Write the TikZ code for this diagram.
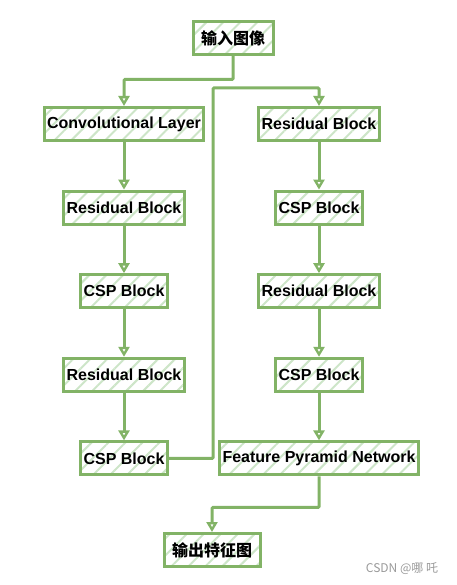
\documentclass[tikz,border=0pt]{standalone}
\usepackage{fontspec}
\setmainfont{Liberation Sans}
\newfontfamily\cjk{Noto Sans CJK SC}
\usetikzlibrary{arrows.meta,positioning,patterns.meta}
\definecolor{leaf}{HTML}{82B366}
\definecolor{leaflight}{HTML}{CDE5C8}
\tikzset{
    %Define standard arrow tip
    >={Triangle[open,length=10pt,width=11pt,line width=2.4pt]},
    %Define style for boxes
    block/.style={
           rectangle,
           draw=leaf,
           line width=3pt,
           pattern={Lines[angle=45,distance=12pt,line width=2pt]},
           pattern color=leaflight,
           inner xsep=3pt,
           minimum height=33pt,
           font=\fontsize{16}{19}\selectfont\bfseries},
    % Define block style for chinese text
    cblock/.style={
           block,
           inner xsep=8pt,
           font=\fontsize{16}{19}\selectfont\cjk\bfseries},
    % Define arrow style
    flow/.style={
           ->,
           draw=leaf,
           line width=3pt,
           rounded corners=1pt}
}

\begin{document}
\begin{tikzpicture}[x=1pt, y=1pt, node distance=47.6pt]
  \useasboundingbox (0,0) rectangle (456,-585);
  % input
  \node[cblock] (input) at (233,-38) {输入图像};
  % left column
  \node[block] (conv) at (124,-124) {Convolutional Layer};
  \node[block,below=of conv] (resA) {Residual Block};
  \node[block,below=of resA] (cspA) {CSP Block};
  \node[block,below=of cspA] (resB) {Residual Block};
  \node[block,below=of resB] (cspB) {CSP Block};
  % right column
  \node[block] (resC) at (319,-124) {Residual Block};
  \node[block,below=of resC] (cspC) {CSP Block};
  \node[block,below=of cspC] (resD) {Residual Block};
  \node[block,below=of resD] (cspD) {CSP Block};
  \node[block,below=of cspD] (fpn) {Feature Pyramid Network};
  % output
  \node[cblock] (output) at (212,-550) {输出特征图};
  \node[text=black!40,font=\fontsize{12}{14}\selectfont\cjk] (mark) at (402,-569) {CSDN @哪 吒};

  \coordinate (cross) at (213,-88);
  \draw[flow] (input.south) -- ++(0,-24) -| (conv.north);
  \draw[flow] (conv) -- (resA);
  \draw[flow] (resA) -- (cspA);
  \draw[flow] (cspA) -- (resB);
  \draw[flow] (resB) -- (cspB);
  \draw[flow] (cspB.east) -| (cross) -| (resC.north);
  \draw[flow] (resC) -- (cspC);
  \draw[flow] (cspC) -- (resD);
  \draw[flow] (resD) -- (cspD);
  \draw[flow] (cspD) -- (fpn);
  \draw[flow] (fpn.south) -- ++(0,-31) -| (output.north);
\end{tikzpicture}
\end{document}
